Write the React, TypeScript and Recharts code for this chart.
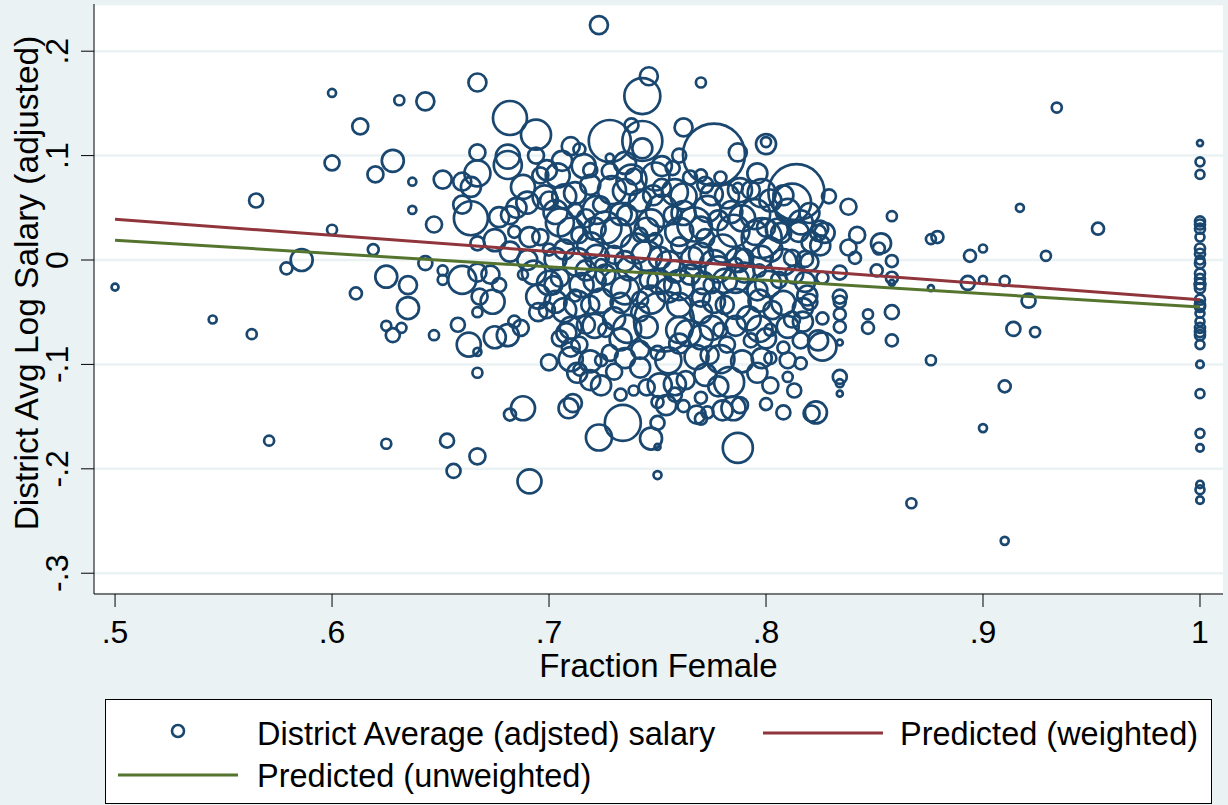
import { ScatterChart, Scatter, XAxis, YAxis, ZAxis, CartesianGrid } from 'recharts';

// districts: fraction female, average log salary (adjusted), weight
const outerFrac = [
  .500, .545, .563, .571, .565, .579, .586, .600, .600, .600,
  .613, .620, .628, .619, .611, .625, .625, .628, .631, .635,
  .625, .643, .637, .637, .635, .632, .647, .643, .651, .651,
  .647, .651, .653, .656, .667, .667, .667, .660, .664, .667,
  .660, .664, .660, .667, .673, .668, .674, .667, .658, .663,
  .667, .667, .667, .675, .677, .682, .684, .682, .677, .688,
  .675, .681, .684, .687, .682, .694, .681, .681, .688, .696,
  .699, .704, .691, .696, .695, .695, .699, .700, .708, .710,
  .713, .714, .688, .682, .709, .711, .691, .710, .714, .723,
  .728, .743, .738, .743, .728, .746, .743, .770, .762, .776,
  .787, .800, .800, .796, .739, .738, .787,
];
const outerSalary = [
  -.026, -.057, -.071, -.173, .057, -.008, .000, .160, .093, .029,
  .128, .082, .095, .010, -.032, -.016, -.063, -.072, .153, -.046,
  -.176, .152, .075, .048, -.024, -.065, -.072, -.003, -.010, -.019,
  .034, .077, -.173, -.202, -.188, .170, .103, .075, .070, .083,
  .053, .040, -.019, -.012, -.014, -.035, -.040, -.050, -.062, -.081,
  -.088, .016, -.108, .019, .041, .043, .027, .008, -.024, -.014,
  -.074, -.072, -.059, -.065, .136, .120, .099, .091, .070, .081,
  .086, .081, .022, .022, -.035, -.050, -.048, -.098, -.070, -.084,
  -.108, -.105, -.142, -.148, -.142, -.137, -.212, .109, .106, .225,
  .114, .114, .129, .107, .098, .176, .157, .170, .127, .101,
  .103, .111, .113, .083, .080, .077, .069,
];
const outerWeight = [
  12, 16, 25, 25, 49, 36, 121, 16, 56, 25,
  64, 64, 121, 30, 36, 121, 25, 49, 25, 121,
  25, 81, 16, 16, 81, 25, 25, 49, 25, 25,
  64, 81, 49, 49, 64, 81, 64, 81, 100, 169,
  81, 289, 196, 81, 81, 64, 144, 25, 49, 144,
  16, 49, 25, 121, 100, 81, 36, 100, 49, 25,
  121, 121, 36, 64, 289, 225, 144, 196, 144, 64,
  100, 144, 100, 64, 144, 81, 64, 64, 100, 81,
  100, 36, 144, 36, 100, 81, 144, 81, 36, 81,
  441, 400, 49, 100, 16, 81, 324, 25, 81, 961,
  81, 100, 25, 100, 64, 225, 25,
];

const rightFrac = [
  .829, .838, .858, .842, .838, .841, .853, .852, .858, .851,
  .858, .858, .876, .879, .894, .900, .893, .900, .876, .834,
  .834, .826, .819, .821, .825, .827, .824, .834, .834, .834,
  .834, .847, .847, .858, .858, .876, .826, .826, .824, .816,
  .817, .817, .834, .834, .834, .823, .821, .900, .867, .910,
  .910, .934, .917, .953, .929, .910, .921, .914, .924,
  .734, .723, .747, .750, .750, .750, .754, .750, .762, .768,
  .770, .773, .780, .785, .788, .787, .800, .808,
];
const rightSalary = [
  .061, .051, .042, .024, .012, .002, .016, .011, -.001, -.010,
  -.017, -.022, .020, .022, .004, .011, -.022, -.019, -.027, -.012,
  -.035, -.017, -.034, .017, .014, .026, .026, -.040, -.052, -.064,
  -.079, -.052, -.065, -.050, -.077, -.096, -.056, -.083, -.077, -.099,
  -.059, -.046, -.112, -.118, -.128, -.146, -.147, -.161, -.233, -.121,
  -.269, .146, .050, .030, .004, -.020, -.039, -.066, -.069,
  -.156, -.170, -.171, -.156, -.179, -.206, -.139, -.136, -.140, -.148,
  -.152, -.146, -.144, -.142, -.139, -.180, -.138, -.146,
];
const rightWeight = [
  49, 64, 25, 64, 64, 36, 100, 36, 36, 36,
  36, 9, 25, 36, 36, 16, 49, 16, 9, 49,
  49, 36, 100, 100, 100, 100, 64, 36, 36, 36,
  9, 25, 36, 49, 36, 25, 36, 196, 100, 36,
  100, 100, 49, 16, 9, 121, 64, 16, 25, 36,
  16, 25, 16, 36, 25, 25, 49, 49, 25,
  324, 169, 121, 49, 9, 16, 100, 36, 36, 81,
  36, 36, 100, 144, 64, 225, 36, 49,
];

const coreFrac = [
  .707, .719, .729, .742, .752, .762, .772, .782, .793, .802, .765, .779, .724, .700, .712,
  .705, .717, .726, .736, .747, .757, .767, .778, .789, .800, .807, .816, .714, .742, .772, .798,
  .707, .719, .730, .740, .751, .760, .770, .780, .790, .802, .812, .820, .724, .749, .786,
  .705, .715, .726, .735, .746, .755, .765, .775, .786, .796, .806, .813, .712, .742, .770, .797,
  .707, .719, .730, .753, .742, .770, .781, .792, .803, .812, .726, .717, .779, .802,
  .714, .728, .742, .750, .760, .764, .782, .793, .808, .724, .774, .802, .816,
  .719, .730, .742, .739, .751, .763, .772, .783, .796, .810, .758, .733, .770, .813,
  .757, .770, .719, .702, .700, .814, .812,
];
const coreSalary = [
  .061, .072, .067, .057, .069, .061, .072, .061, .067, .057, .079, .079, .053, .057, .048,
  .036, .040, .031, .043, .036, .043, .034, .038, .040, .031, .026, .036, .024, .024, .021, .021,
  .010, .014, .005, .011, .002, .014, .005, .011, .002, .010, .002, -.002, -.005, .019, -.005,
  -.017, -.024, -.014, -.029, -.019, -.029, -.014, -.024, -.019, -.029, -.019, -.014, -.034, -.038, -.036, -.010,
  -.048, -.043, -.056, -.059, -.050, -.050, -.043, -.056, -.048, -.057, -.067, -.062, -.067, -.067,
  -.081, -.089, -.086, -.089, -.080, -.070, -.081, -.077, -.084, -.096, -.091, -.094, -.077,
  -.115, -.107, -.103, -.125, -.120, -.115, -.110, -.117, -.108, -.112, -.129, -.129, -.132, -.125,
  .088, .081, .086, -.024, .010, .065, .055,
];
const coreWeight = [
  144, 100, 196, 121, 81, 169, 64, 144, 81, 121, 49, 36, 64, 81, 49,
  196, 81, 256, 100, 169, 81, 289, 100, 169, 81, 100, 144, 64, 49, 81, 400,
  100, 169, 81, 225, 121, 64, 144, 196, 81, 144, 64, 81, 36, 49, 49,
  81, 144, 100, 196, 81, 144, 100, 64, 169, 100, 64, 81, 36, 64, 81, 36,
  144, 81, 121, 900, 81, 121, 81, 144, 81, 64, 49, 81, 49, 36,
  64, 64, 81, 49, 100, 169, 64, 49, 36, 36, 81, 36, 64,
  100, 64, 100, 25, 144, 81, 121, 225, 100, 25, 49, 36, 36, 49,
  49, 36, 49, 81, 36, 784, 361,
];

// more of the crowded middle
const denseFrac = [
  .712, .735, .748, .758, .775, .788, .798, .808,
  .703, .722, .733, .752, .762, .773, .784, .795, .810, .820,
  .710, .721, .731, .745, .760, .770, .785, .795, .805, .815, .825,
  .703, .713, .722, .735, .745, .755, .766, .776, .787, .798, .808, .818,
  .717, .737, .758, .778, .790,
  .700, .721, .731, .751, .760, .771, .781, .801, .818,
  .703, .713, .724, .733, .747, .760, .776, .786, .797, .808, .820,
  .710, .721, .736, .745, .760, .775, .786, .797, .810,
  .705, .733, .770, .800,
  .710, .719, .735, .755, .768, .779, .789, .798, .810,
  .724, .745, .758, .778, .802,
  .690, .693, .690, .685, .698, .694, .706, .716, .735, .752, .760, .749, .728,
];
const denseSalary = [
  .064, .066, .062, .065, .063, .067, .064, .062,
  .046, .048, .044, .047, .045, .049, .046, .044, .047, .045,
  .028, .030, .026, .029, .027, .031, .028, .026, .029, .027, .030,
  .001, -.002, .003, -.001, .004, -.003, .002, -.004, .000, .003, -.002, .001,
  -.010, -.008, -.011, -.009, -.012,
  -.022, -.020, -.023, -.021, -.024, -.022, -.020, -.023, -.021,
  -.040, -.042, -.039, -.041, -.038, -.043, -.040, -.042, -.039, -.041, -.040,
  -.065, -.063, -.066, -.064, -.067, -.065, -.063, -.066, -.064,
  -.075, -.076, -.074, -.075,
  -.095, -.097, -.094, -.096, -.093, -.095, -.097, -.094, -.096,
  -.120, -.122, -.119, -.121, -.120,
  .000, -.012, .055, .050, .060, .100, .095, .090, .093, .090, .100, .080, .085,
];
const denseWeight = [
  121, 144, 100, 169, 121, 144, 196, 100,
  144, 196, 121, 256, 144, 169, 121, 225, 144, 100,
  169, 121, 225, 144, 196, 121, 256, 144, 121, 100, 64,
  121, 196, 144, 100, 225, 144, 121, 196, 144, 121, 169, 64,
  100, 144, 121, 169, 100,
  144, 121, 196, 144, 225, 121, 144, 169, 100,
  121, 169, 144, 100, 196, 144, 121, 225, 121, 144, 64,
  121, 144, 196, 121, 169, 144, 100, 169, 121,
  64, 121, 144, 100,
  144, 121, 100, 169, 144, 196, 121, 100, 64,
  100, 64, 121, 100, 64,
  100, 144, 121, 100, 144, 64, 100, 144, 121, 100, 49, 196, 64,
];

// all-female districts
const allFemaleFrac = 1;
const allFemaleSalary = [
  .112, .094, .082, .037, .034, .030, .022, .011, .006, 0,
  -.003, -.013, -.018, -.023, -.027, -.038, -.043, -.045, -.051, -.059,
  -.065, -.069, -.072, -.081, -.100, -.128, -.166, -.180, -.215, -.220, -.230,
];
const allFemaleWeight = [
  9, 20, 20, 25, 25, 25, 20, 25, 25, 20,
  25, 25, 25, 30, 25, 25, 25, 25, 20, 20,
  25, 25, 25, 20, 14, 20, 20, 14, 14, 20, 14,
];

const fitFrac = [0.5, 1.0];
const fitWeighted = [0.039, -0.038];
const fitUnweighted = [0.019, -0.045];

const xTicks = [0.5, 0.6, 0.7, 0.8, 0.9, 1];
const yTicks = [-0.3, -0.2, -0.1, 0, 0.1, 0.2];

const NAVY = '#1A476F';
const MAROON = '#90353B';
const OLIVE = '#55752F';
const BG = '#EAF2F3';
const FONT = 'Arial, "Liberation Sans", sans-serif';

const zip = (xs: number[], ys: number[], ws: number[]) =>
  xs.map((x, i) => ({ x, y: ys[i], w: ws[i] }));

const districts = [
  ...zip(outerFrac, outerSalary, outerWeight),
  ...zip(rightFrac, rightSalary, rightWeight),
  ...zip(coreFrac, coreSalary, coreWeight),
  ...zip(denseFrac, denseSalary, denseWeight),
  ...allFemaleSalary.map((y, i) => ({ x: allFemaleFrac, y, w: allFemaleWeight[i] })),
];
const weightedLine = fitFrac.map((x, i) => ({ x, y: fitWeighted[i] }));
const unweightedLine = fitFrac.map((x, i) => ({ x, y: fitUnweighted[i] }));

const fmt = (v: number) => {
  const r = Math.round(v * 10) / 10;
  if (r === 0) return '0';
  return String(r).replace('0.', '.');
};

const Ring = (p: any) => {
  const r = p.width ? p.width / 2 : Math.sqrt((p.size || 0) / Math.PI);
  return <circle cx={p.cx} cy={p.cy} r={r} fill="none" stroke={NAVY} strokeWidth={2.7} />;
};
const NoMark = () => <g />;

const XTick = ({ x, y, payload }: any) => (
  <text x={x} y={y + 34} textAnchor="middle" fontSize={32} fontFamily={FONT} fill="#000">
    {fmt(payload.value)}
  </text>
);
const YTick = ({ x, y, payload }: any) => (
  <text x={x - 11} y={y} transform={`rotate(-90 ${x - 11} ${y})`} textAnchor="middle"
    fontSize={32} fontFamily={FONT} fill="#000">
    {fmt(payload.value)}
  </text>
);

function App() {
  return (
    <div style={{ position: 'absolute', left: 0, top: 0, width: 1228, height: 805, background: BG, overflow: 'hidden' }}>
      <ScatterChart width={1228} height={700} margin={{ top: 4, right: 5, bottom: 0, left: 0 }}>
        <CartesianGrid vertical={false} stroke={BG} strokeWidth={2.5} fill="#fff" />
        <XAxis type="number" dataKey="x" domain={[0.4903, 1.0106]} ticks={xTicks} allowDataOverflow
          interval={0} height={106} tickSize={13} tickMargin={2} stroke="#000" tick={<XTick />} />
        <YAxis type="number" dataKey="y" domain={[-0.3199, 0.2452]} ticks={yTicks} allowDataOverflow
          interval={0} width={94} tickSize={13} tickMargin={2} stroke="#000" tick={<YTick />} />
        <ZAxis type="number" dataKey="w" domain={[0, 1000]} range={[0, 1000 * Math.PI]} />
        <Scatter data={districts} shape={Ring} isAnimationActive={false} />
        <Scatter data={weightedLine} shape={NoMark} line={{ stroke: MAROON, strokeWidth: 3 }} isAnimationActive={false} />
        <Scatter data={unweightedLine} shape={NoMark} line={{ stroke: OLIVE, strokeWidth: 3 }} isAnimationActive={false} />
      </ScatterChart>
      <svg width={1228} height={805} style={{ position: 'absolute', left: 0, top: 0, pointerEvents: 'none' }}
        fontFamily={FONT} fill="#000">
        <text x={658.5} y={677} textAnchor="middle" fontSize={33}>Fraction Female</text>
        <text x={38} y={283} transform="rotate(-90 38 283)" textAnchor="middle" fontSize={33.5}>
          District Avg Log Salary (adjusted)
        </text>
        <rect x={105.5} y={699.5} width={1106} height={104} fill="#fff" stroke="#000" strokeWidth={1} />
        <circle cx={178} cy={731} r={6} fill="none" stroke={NAVY} strokeWidth={2.6} />
        <g fontSize={32.5}>
          <text x={257} y={745}>District Average (adjsted) salary</text>
          <line x1={763} x2={883} y1={733} y2={733} stroke={MAROON} strokeWidth={3} />
          <text x={900} y={745}>Predicted (weighted)</text>
          <line x1={118} x2={238} y1={775} y2={775} stroke={OLIVE} strokeWidth={3} />
          <text x={257} y={787}>Predicted (unweighted)</text>
        </g>
      </svg>
    </div>
  );
}

export default App;
